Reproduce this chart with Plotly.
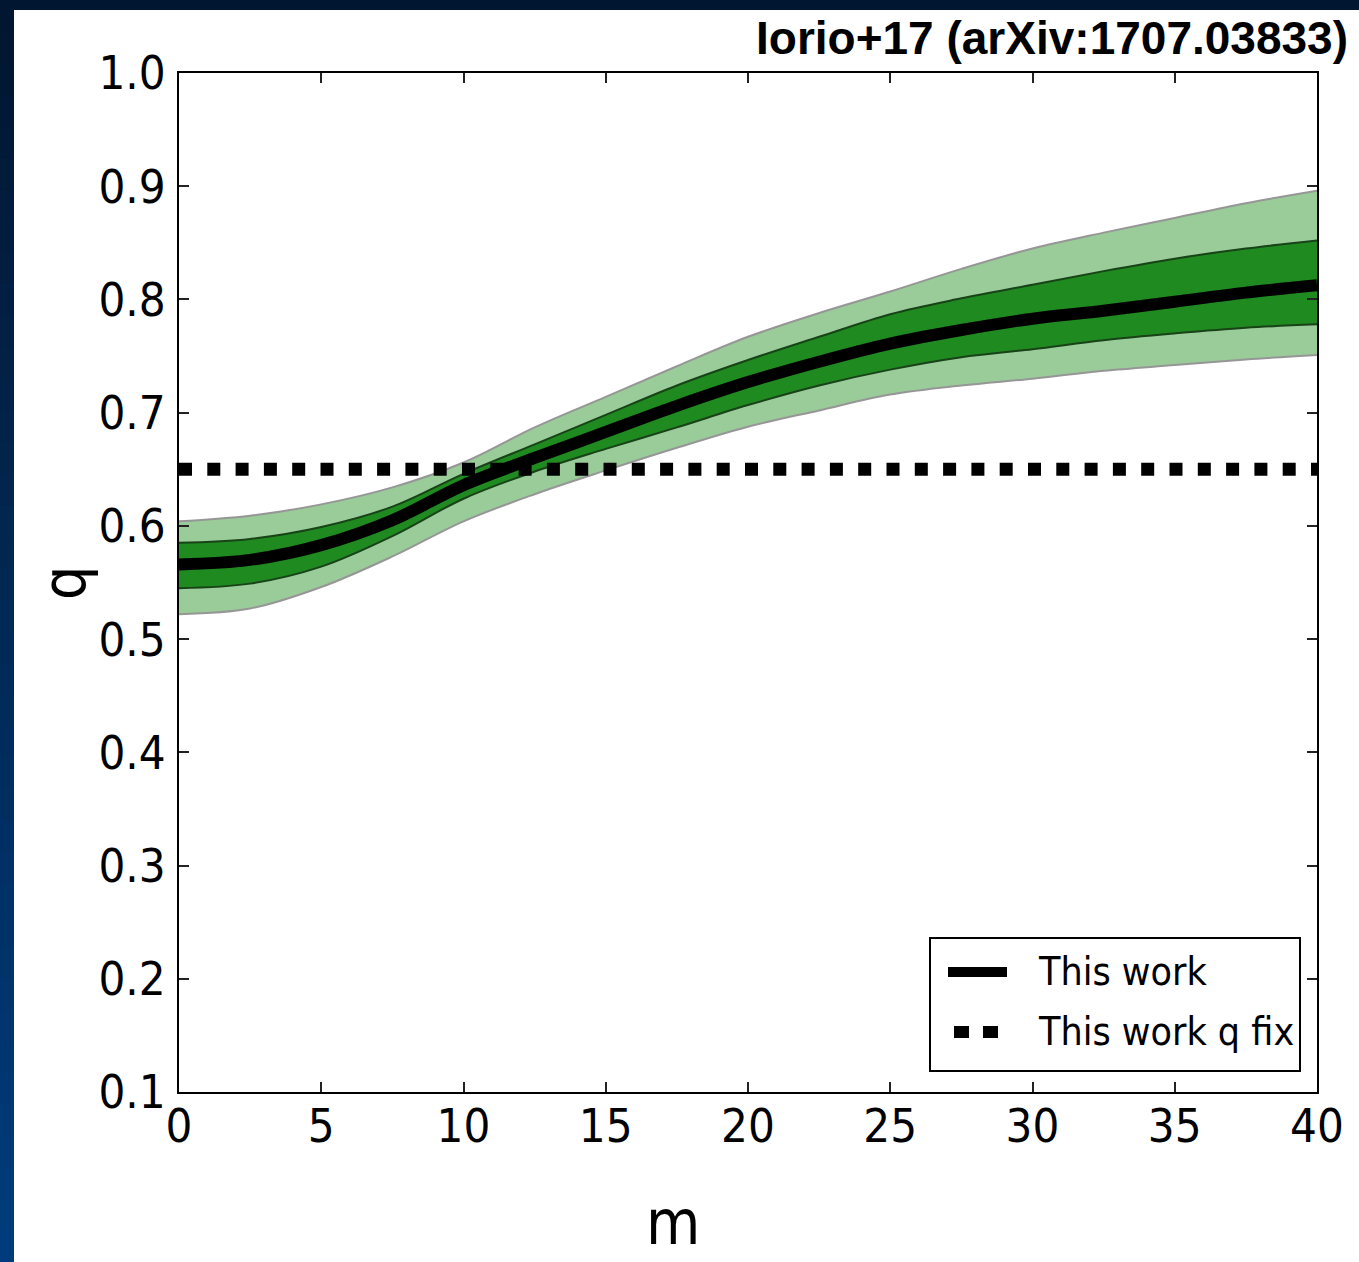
import plotly.graph_objects as go

# Posterior of q as a function of m: median with 1-sigma and 2-sigma envelopes
m_grid = [0, 2.5, 5, 7.5, 10, 12.5, 15, 17.5, 20, 22.5, 25, 27.5, 30, 32.5, 35, 37.5, 40]
q_median = [0.566, 0.570, 0.583, 0.605, 0.636, 0.660, 0.683, 0.706, 0.727, 0.745, 0.761,
            0.773, 0.783, 0.790, 0.798, 0.806, 0.8125]
q_1sig_hi = [0.585, 0.5885, 0.599, 0.617, 0.646, 0.672, 0.698, 0.724, 0.7465, 0.767, 0.787,
             0.801, 0.813, 0.825, 0.836, 0.845, 0.852]
q_1sig_lo = [0.545, 0.549, 0.564, 0.591, 0.624, 0.648, 0.668, 0.687, 0.7067, 0.724, 0.738,
             0.749, 0.756, 0.764, 0.770, 0.775, 0.778]
q_2sig_hi = [0.604, 0.609, 0.619, 0.634, 0.656, 0.687, 0.714, 0.741, 0.767, 0.788, 0.807,
             0.827, 0.845, 0.859, 0.872, 0.885, 0.896]
q_2sig_lo = [0.522, 0.527, 0.546, 0.573, 0.604, 0.628, 0.649, 0.669, 0.6876, 0.702, 0.716,
             0.724, 0.730, 0.737, 0.742, 0.747, 0.751]

# Fixed-q result
q_fix_m = [0, 40]
q_fix_value = 0.65

x_ticks = [0, 5, 10, 15, 20, 25, 30, 35, 40]
y_ticks = [0.1, 0.2, 0.3, 0.4, 0.5, 0.6, 0.7, 0.8, 0.9, 1.0]
y_ticklabels = ["0.1", "0.2", "0.3", "0.4", "0.5", "0.6", "0.7", "0.8", "0.9", "1.0"]

legend_labels = ["This work", "This work q fix"]
title_text = "Iorio+17 (arXiv:1707.03833)"

W, H = 1359, 1262
L, R, T, B = 179, 42, 73, 170
PW, PH = W - L - R, H - T - B

FONT = "DejaVu Sans Condensed, DejaVu Sans, sans-serif"


def px_x(px):
    return (px - L) / PW


def px_y(py):
    return (H - B - py) / PH


light_green = "rgb(153,204,153)"
dark_green = "rgb(31,138,31)"
outer_edge = "rgb(150,150,150)"
inner_edge = "rgb(24,66,24)"
SPL = dict(shape="spline", smoothing=1.0)

fig = go.Figure()

# 2-sigma envelope
fig.add_trace(go.Scatter(x=m_grid, y=q_2sig_lo, mode="lines",
                         line=dict(color=outer_edge, width=2, **SPL),
                         showlegend=False, hoverinfo="skip"))
fig.add_trace(go.Scatter(x=m_grid, y=q_2sig_hi, mode="lines", fill="tonexty",
                         fillcolor=light_green,
                         line=dict(color=outer_edge, width=2, **SPL),
                         showlegend=False, hoverinfo="skip"))
# 1-sigma envelope
fig.add_trace(go.Scatter(x=m_grid, y=q_1sig_lo, mode="lines",
                         line=dict(color=inner_edge, width=2, **SPL),
                         showlegend=False, hoverinfo="skip"))
fig.add_trace(go.Scatter(x=m_grid, y=q_1sig_hi, mode="lines", fill="tonexty",
                         fillcolor=dark_green,
                         line=dict(color=inner_edge, width=2, **SPL),
                         showlegend=False, hoverinfo="skip"))
# median
fig.add_trace(go.Scatter(x=m_grid, y=q_median, mode="lines", name=legend_labels[0],
                         line=dict(color="black", width=12, **SPL),
                         showlegend=False))
# fixed q
fig.add_trace(go.Scatter(x=q_fix_m, y=[q_fix_value] * len(q_fix_m), mode="lines",
                         name=legend_labels[1],
                         line=dict(color="black", width=13, dash="13px,15.3px"),
                         showlegend=False))

shapes = []
# slide frame: dark top band and a vertical gradient band on the left
top_col = (1, 22, 48)
bot_col = (0, 60, 124)
n_strips = 40
for i in range(n_strips):
    t = i / (n_strips - 1)
    c = tuple(round(top_col[k] + (bot_col[k] - top_col[k]) * t) for k in range(3))
    y0 = i * H / n_strips
    y1 = (i + 1) * H / n_strips + 1
    shapes.append(dict(type="rect", xref="paper", yref="paper",
                       x0=px_x(0), x1=px_x(14), y0=px_y(y1), y1=px_y(y0),
                       fillcolor="rgb(%d,%d,%d)" % c, line=dict(width=0), layer="below"))
shapes.append(dict(type="rect", xref="paper", yref="paper",
                   x0=px_x(0), x1=px_x(W + 5), y0=px_y(10), y1=px_y(-5),
                   fillcolor="rgb(%d,%d,%d)" % top_col, line=dict(width=0), layer="below"))

# legend box and samples
shapes.append(dict(type="rect", xref="paper", yref="paper",
                   x0=px_x(930), x1=px_x(1300), y0=px_y(1071), y1=px_y(938),
                   fillcolor="white", line=dict(color="black", width=2), layer="above"))
shapes.append(dict(type="line", xref="paper", yref="paper",
                   x0=px_x(948), x1=px_x(1007), y0=px_y(972), y1=px_y(972),
                   line=dict(color="black", width=10), layer="above"))
shapes.append(dict(type="line", xref="paper", yref="paper",
                   x0=px_x(954), x1=px_x(998), y0=px_y(1032), y1=px_y(1032),
                   line=dict(color="black", width=12, dash="15px,14px"), layer="above"))

annotations = [
    dict(text=legend_labels[0], xref="paper", yref="paper", x=px_x(1036), y=px_y(971),
         xanchor="left", yanchor="middle", showarrow=False,
         font=dict(family=FONT, size=39, color="black")),
    dict(text=legend_labels[1], xref="paper", yref="paper", x=px_x(1036), y=px_y(1031),
         xanchor="left", yanchor="middle", showarrow=False,
         font=dict(family=FONT, size=39, color="black")),
    dict(text="m", xref="paper", yref="paper", x=px_x(673), y=px_y(1222),
         xanchor="center", yanchor="middle", showarrow=False,
         font=dict(family=FONT, size=62, color="black")),
    dict(text="q", xref="paper", yref="paper", x=px_x(64), y=px_y(583), textangle=-90,
         xanchor="center", yanchor="middle", showarrow=False,
         font=dict(family=FONT, size=60, color="black")),
    dict(text="<b>" + title_text + "</b>", xref="paper", yref="paper", x=px_x(754), y=px_y(38),
         xanchor="left", yanchor="middle", showarrow=False,
         font=dict(family="Liberation Sans, Arial, sans-serif", size=46, color="black")),
]

fig.update_layout(
    width=W, height=H,
    margin=dict(l=L, r=R, t=T, b=B, pad=0),
    paper_bgcolor="white", plot_bgcolor="white",
    showlegend=False,
    shapes=shapes, annotations=annotations,
    xaxis=dict(range=[0, 40], tickvals=x_ticks, ticktext=[str(v) for v in x_ticks],
               showgrid=False, zeroline=False, showline=True, linecolor="black", linewidth=2,
               mirror="ticks", ticks="inside", ticklen=10, tickwidth=1.5, tickcolor="#222",
               ticklabelstandoff=-8,
               tickfont=dict(family=FONT, size=47, color="black")),
    yaxis=dict(range=[0.1, 1.0], tickvals=y_ticks, ticktext=y_ticklabels,
               showgrid=False, zeroline=False, showline=True, linecolor="black", linewidth=2,
               mirror="ticks", ticks="inside", ticklen=10, tickwidth=1.5, tickcolor="#222",
               ticklabelstandoff=2,
               tickfont=dict(family=FONT, size=47, color="black")),
)

fig.write_html("out.html")
